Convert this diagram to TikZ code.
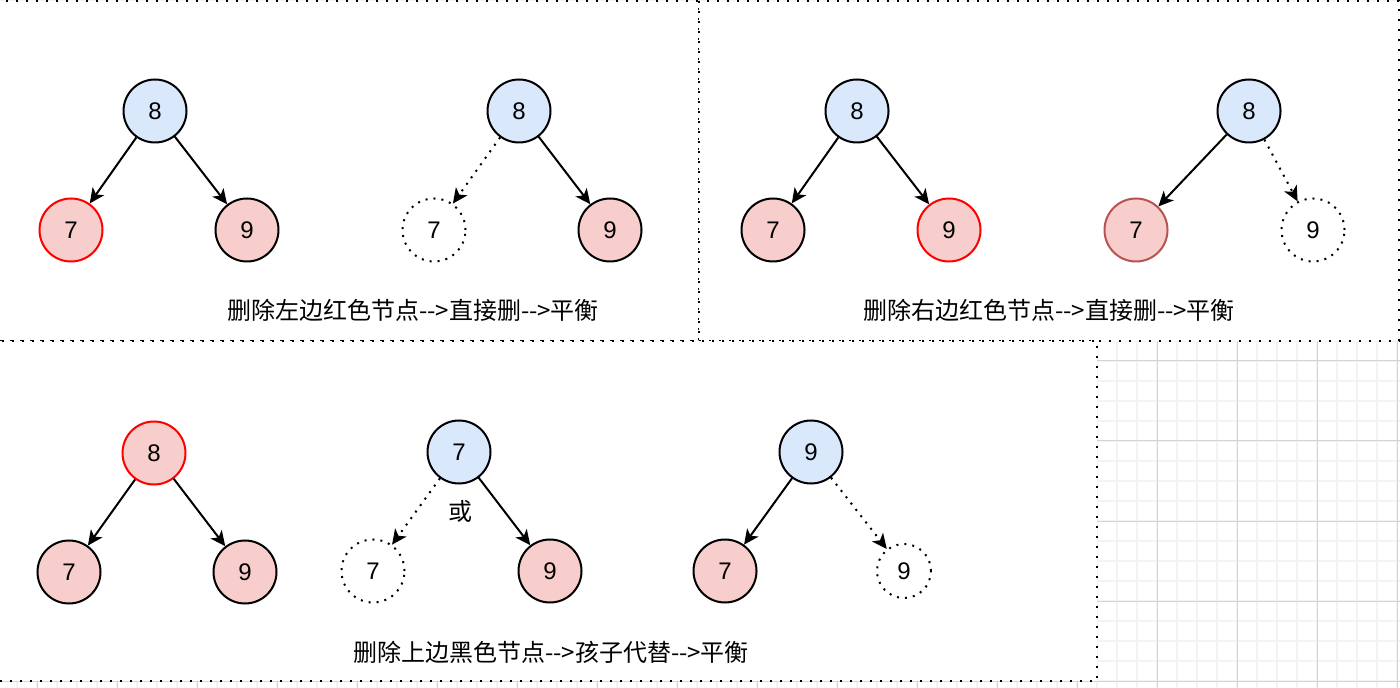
\documentclass[tikz,border=0pt]{standalone}
\usepackage{fontspec}
\setmainfont{Liberation Sans}
\newfontfamily\cjk{Noto Sans CJK SC}
\usetikzlibrary{arrows.meta}
\definecolor{nodeblue}{HTML}{DAE8FC}
\definecolor{nodered}{HTML}{F8CECC}
\definecolor{darkred}{HTML}{B85450}
\definecolor{gridmajor}{HTML}{D4D4D4}
\definecolor{gridminor}{HTML}{F3F3F3}

\begin{document}
\begin{tikzpicture}[x=0.5pt, y=-0.5pt,
        font=\fontsize{12}{14}\selectfont,
        vertex/.style={draw, circle, minimum size=31.5pt, inner sep=0pt, line width=1pt},
        bluenode/.style={vertex, fill=nodeblue},
        rednode/.style={vertex, fill=nodered},
        gonenode/.style={vertex, dash pattern=on 1pt off 3pt},
        link/.style={draw, line width=1pt, -{Stealth[length=7.5pt, width=7pt, inset=2pt]}},
        gonelink/.style={link, dash pattern=on 1pt off 3pt},
        frame/.style={draw, fill=white, line width=1pt, dash pattern=on 1pt off 4pt},
        caption/.style={font=\cjk\fontsize{12}{14}\selectfont}]
        \useasboundingbox (0,0) rectangle (1400,688);
        \clip (0,0) rectangle (1400,688);

        % background grid
        \foreach \gx in {17,37,...,1397} \draw[gridminor, line width=0.75pt] (\gx,0) -- (\gx,688);
        \foreach \gy in {1,21,...,681} \draw[gridminor, line width=0.75pt] (0,\gy) -- (1400,\gy);
        \foreach \gx in {37,117,...,1397} \draw[gridmajor, line width=0.5pt] (\gx,0) -- (\gx,688);
        \foreach \gy in {41,121,...,681} \draw[gridmajor, line width=0.5pt] (0,\gy) -- (1400,\gy);

        % frames
        \path[frame] (-10,1) rectangle (699,341);
        \path[frame] (699,1) rectangle (1399,341);
        \path[frame] (-10,341) rectangle (1097,681);

        % delete left red node
        \node[bluenode] (a8) at (155,111) {8};
        \node[rednode, draw=red] (a7) at (71,230) {7};
        \node[rednode] (a9) at (247,230) {9};
        \path[link] (a8) -- (a7);
        \path[link] (a8) -- (a9);

        \node[bluenode] (b8) at (519,111) {8};
        \node[gonenode] (b7) at (434,230) {7};
        \node[rednode] (b9) at (610,230) {9};
        \path[gonelink] (b8) -- (b7);
        \path[link] (b8) -- (b9);

        \node[caption] (capa) at (413,310) {删除左边红色节点-->直接删-->平衡};

        % delete right red node
        \node[bluenode] (c8) at (857,111) {8};
        \node[rednode] (c7) at (773,230) {7};
        \node[rednode, draw=red] (c9) at (949,230) {9};
        \path[link] (c8) -- (c7);
        \path[link] (c8) -- (c9);

        \node[bluenode] (d8) at (1249,111) {8};
        \node[rednode, draw=darkred] (d7) at (1136,230) {7};
        \node[gonenode] (d9) at (1313,230) {9};
        \path[link] (d8) -- (d7);
        \path[gonelink] (d8) -- (d9);

        \node[caption] (capb) at (1049,310) {删除右边红色节点-->直接删-->平衡};

        % delete upper black node
        \node[rednode, draw=red] (e8) at (154,453) {8};
        \node[rednode] (e7) at (69,572) {7};
        \node[rednode] (e9) at (245,572) {9};
        \path[link] (e8) -- (e7);
        \path[link] (e8) -- (e9);

        \node[bluenode] (f7) at (459,452) {7};
        \node[gonenode] (fx) at (373,571) {7};
        \node[rednode] (f9) at (550,571) {9};
        \path[gonelink] (f7) -- (fx);
        \path[link] (f7) -- (f9);

        \node[caption] (or) at (460,511) {或};

        \node[bluenode] (g9) at (811,452) {9};
        \node[rednode] (g7) at (725,571) {7};
        \node[gonenode, minimum size=27pt] (gx) at (904,571) {9};
        \path[link] (g9) -- (g7);
        \path[gonelink] (g9) -- (gx);

        \node[caption] (capc) at (551,652) {删除上边黑色节点-->孩子代替-->平衡};
\end{tikzpicture}
\end{document}
